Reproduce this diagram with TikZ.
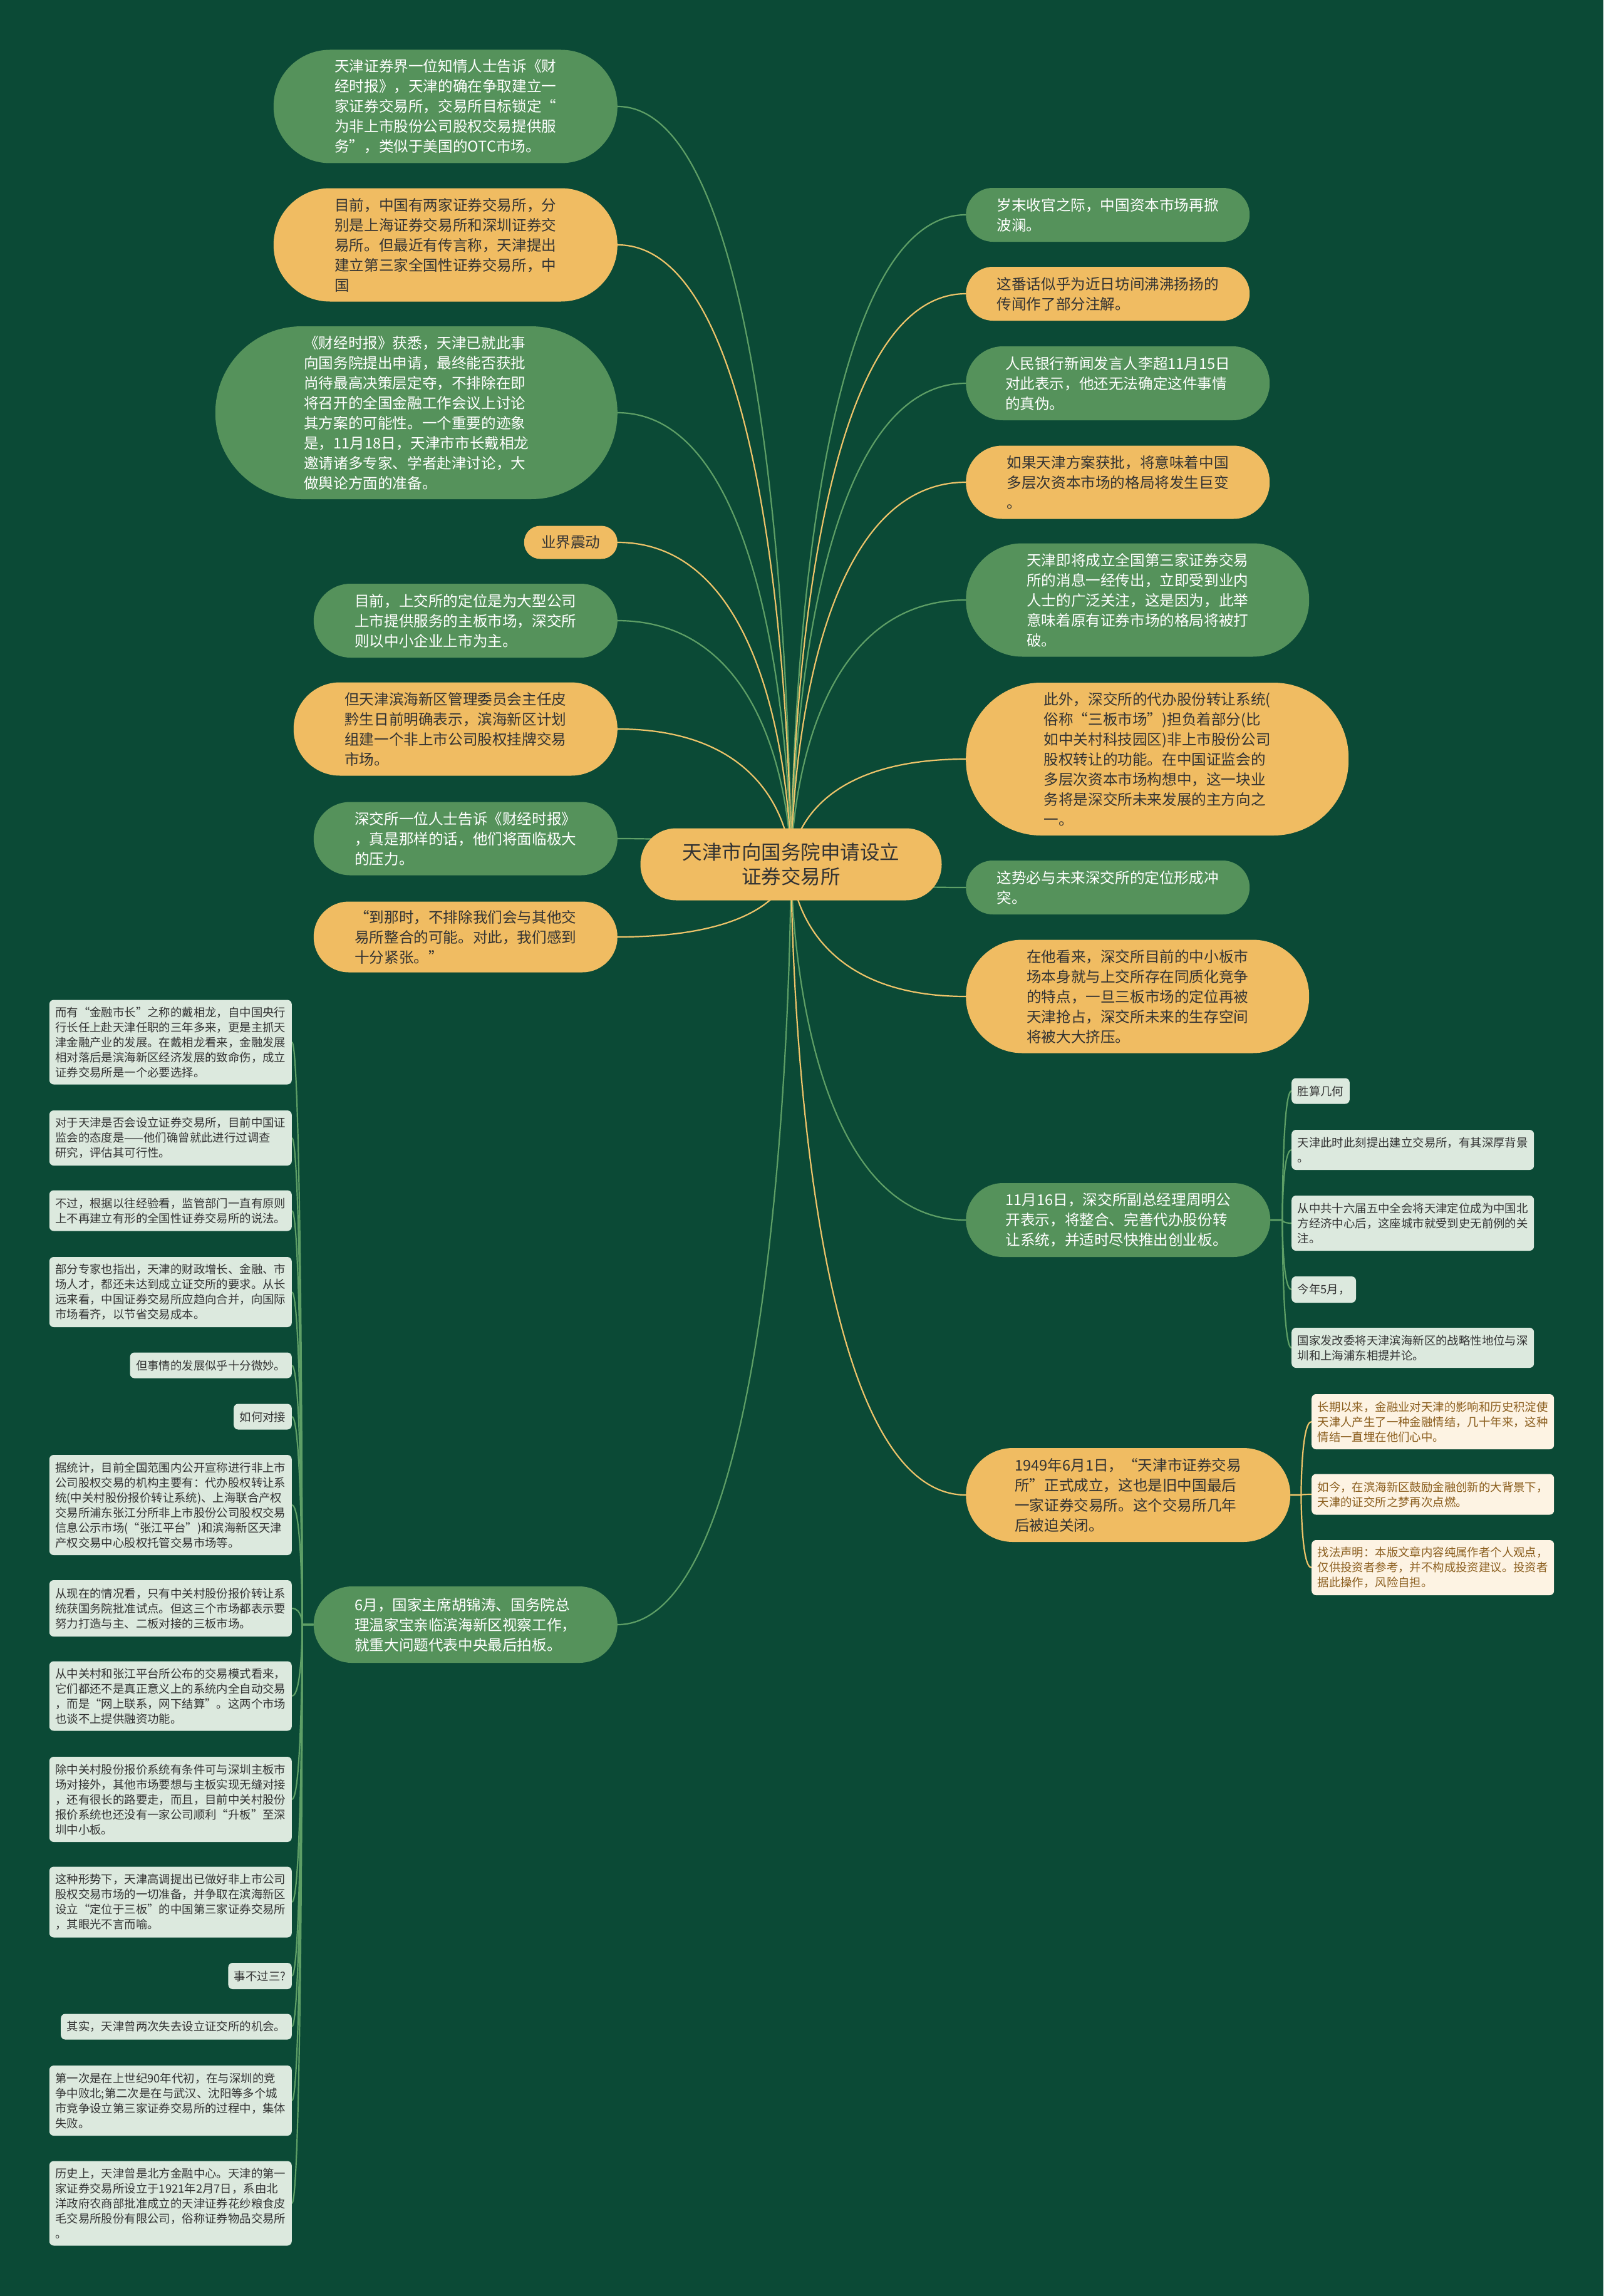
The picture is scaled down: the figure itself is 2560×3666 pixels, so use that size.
\documentclass[tikz,border=0pt]{standalone}
\usepackage{fontspec}
\setmainfont{Noto Sans CJK SC}
\definecolor{bgdark}{HTML}{0B4A36}
\definecolor{nodegreen}{HTML}{55925B}
\definecolor{nodeyellow}{HTML}{F0BC62}
\definecolor{leafgrey}{HTML}{DCE9DE}
\definecolor{leafcream}{HTML}{FDF3E3}
\definecolor{textdark}{HTML}{333333}
\definecolor{textbrown}{HTML}{8B5E1E}
\definecolor{linegreen}{HTML}{5E9F66}
\definecolor{lineyellow}{HTML}{EEC46A}
\pgfdeclarelayer{bg}
\pgfdeclarelayer{lines}
\pgfsetlayers{bg,lines,main}
\begin{document}
\begin{tikzpicture}[
	x=1pt, y=-1pt,
	gbox/.style={fill=nodegreen, text=white, rounded corners=#1, inner sep=0pt, align=left, font=\fontsize{23.6}{32}\selectfont},
	ybox/.style={fill=nodeyellow, text=textdark, rounded corners=#1, inner sep=0pt, align=left, font=\fontsize{23.6}{32}\selectfont},
	topic/.style={fill=nodeyellow, text=textdark, rounded corners=57pt, inner sep=0pt, align=center, minimum width=481pt, minimum height=115pt, font=\fontsize{31.5}{39}\selectfont},
	leaf/.style={fill=leafgrey, text=textdark, rounded corners=7pt, inner xsep=9.5pt, inner ysep=0pt, align=left, font=\fontsize{18.4}{24}\selectfont},
	cleaf/.style={leaf, fill=leafcream, text=textbrown},
	branch/.style={to path={.. controls (\tikztostart) and (\tikztostart |- \tikztotarget) .. (\tikztotarget)}},
	gedge/.style={draw=linegreen, line width=2.2pt, branch},
	yedge/.style={draw=lineyellow, line width=2.2pt, branch}
]

\begin{pgfonlayer}{bg}
\fill[bgdark] (0,0) rectangle (2560,3666);
\end{pgfonlayer}
\useasboundingbox (0,0) rectangle (2560,3666);

% Central topic
\node[topic] (root) at (1263,1380) {天津市向国务院申请设立\\证券交易所};

% Left side nodes
\node[gbox=90pt, anchor=east, minimum width=549pt, minimum height=181pt] (L1) at (986,170) {天津证券界一位知情人士告诉《财\\经时报》，天津的确在争取建立一\\家证券交易所，交易所目标锁定“\\为非上市股份公司股权交易提供服\\务”，类似于美国的OTC市场。};
\node[ybox=90pt, anchor=east, minimum width=549pt, minimum height=181pt] (L2) at (986,391) {目前，中国有两家证券交易所，分\\别是上海证券交易所和深圳证券交\\易所。但最近有传言称，天津提出\\建立第三家全国性证券交易所，中\\国};
\node[gbox=138pt, anchor=east, minimum width=642pt, minimum height=276pt] (L3) at (986,659) {《财经时报》获悉，天津已就此事\\向国务院提出申请，最终能否获批\\尚待最高决策层定夺，不排除在即\\将召开的全国金融工作会议上讨论\\其方案的可能性。一个重要的迹象\\是，11月18日，天津市市长戴相龙\\邀请诸多专家、学者赴津讨论，大\\做舆论方面的准备。};
\node[ybox=26pt, anchor=east, minimum width=149pt, minimum height=53pt] (L4) at (986,866) {业界震动};
\node[gbox=59pt, anchor=east, minimum width=485pt, minimum height=118pt] (L5) at (986,991) {目前，上交所的定位是为大型公司\\上市提供服务的主板市场，深交所\\则以中小企业上市为主。};
\node[ybox=74pt, anchor=east, minimum width=517pt, minimum height=149pt] (L6) at (986,1164) {但天津滨海新区管理委员会主任皮\\黔生日前明确表示，滨海新区计划\\组建一个非上市公司股权挂牌交易\\市场。};
\node[gbox=58pt, anchor=east, minimum width=485pt, minimum height=117pt] (L7) at (986,1339) {深交所一位人士告诉《财经时报》\\，真是那样的话，他们将面临极大\\的压力。};
\node[ybox=56pt, anchor=east, minimum width=485pt, minimum height=113pt] (L8) at (986,1496) {“到那时，不排除我们会与其他交\\易所整合的可能。对此，我们感到\\十分紧张。”};
\node[gbox=61pt, anchor=east, minimum width=485pt, minimum height=122pt] (L9) at (986,2594) {6月，国家主席胡锦涛、国务院总\\理温家宝亲临滨海新区视察工作，\\就重大问题代表中央最后拍板。};

% Right side nodes
\node[gbox=43pt, anchor=west, minimum width=453pt, minimum height=86pt] (R1) at (1542,343) {岁末收官之际，中国资本市场再掀\\波澜。};
\node[ybox=43pt, anchor=west, minimum width=453pt, minimum height=86pt] (R2) at (1542,469) {这番话似乎为近日坊间沸沸扬扬的\\传闻作了部分注解。};
\node[gbox=59pt, anchor=west, minimum width=485pt, minimum height=118pt] (R3) at (1542,612) {人民银行新闻发言人李超11月15日\\对此表示，他还无法确定这件事情\\的真伪。};
\node[ybox=58pt, anchor=west, minimum width=485pt, minimum height=117pt] (R4) at (1542,770) {如果天津方案获批，将意味着中国\\多层次资本市场的格局将发生巨变\\。};
\node[gbox=90pt, anchor=west, minimum width=548pt, minimum height=181pt] (R5) at (1542,958) {天津即将成立全国第三家证券交易\\所的消息一经传出，立即受到业内\\人士的广泛关注，这是因为，此举\\意味着原有证券市场的格局将被打\\破。};
\node[ybox=120pt, anchor=west, minimum width=611pt, minimum height=244pt] (R6) at (1542,1212) {此外，深交所的代办股份转让系统(\\俗称“三板市场”)担负着部分(比\\如中关村科技园区)非上市股份公司\\股权转让的功能。在中国证监会的\\多层次资本市场构想中，这一块业\\务将是深交所未来发展的主方向之\\一。};
\node[gbox=43pt, anchor=west, minimum width=453pt, minimum height=86pt] (R7) at (1542,1417) {这势必与未来深交所的定位形成冲\\突。};
\node[ybox=90pt, anchor=west, minimum width=548pt, minimum height=181pt] (R8) at (1542,1591) {在他看来，深交所目前的中小板市\\场本身就与上交所存在同质化竞争\\的特点，一旦三板市场的定位再被\\天津抢占，深交所未来的生存空间\\将被大大挤压。};
\node[gbox=59pt, anchor=west, minimum width=486pt, minimum height=118pt] (R9) at (1542,1948) {11月16日，深交所副总经理周明公\\开表示，将整合、完善代办股份转\\让系统，并适时尽快推出创业板。};
\node[ybox=75pt, anchor=west, minimum width=518pt, minimum height=150pt] (R10) at (1542,2387) {1949年6月1日，“天津市证券交易\\所”正式成立，这也是旧中国最后\\一家证券交易所。这个交易所几年\\后被迫关闭。};

% Leaves of R9
\node[leaf, anchor=west, minimum height=41pt] (s1) at (2062,1742) {胜算几何};
\node[leaf, anchor=west, minimum height=64pt] (s2) at (2062,1836) {天津此时此刻提出建立交易所，有其深厚背景\\。};
\node[leaf, anchor=west, minimum height=88pt] (s3) at (2062,1953) {从中共十六届五中全会将天津定位成为中国北\\方经济中心后，这座城市就受到史无前例的关\\注。};
\node[leaf, anchor=west, minimum height=42pt] (s4) at (2062,2059) {今年5月，};
\node[leaf, anchor=west, minimum height=64pt] (s5) at (2062,2152) {国家发改委将天津滨海新区的战略性地位与深\\圳和上海浦东相提并论。};

% Leaves of R10
\node[cleaf, anchor=west, minimum height=88pt] (t1) at (2094,2270) {长期以来，金融业对天津的影响和历史积淀使\\天津人产生了一种金融情结，几十年来，这种\\情结一直埋在他们心中。};
\node[cleaf, anchor=west, minimum height=65pt] (t2) at (2094,2386) {如今，在滨海新区鼓励金融创新的大背景下，\\天津的证交所之梦再次点燃。};
\node[cleaf, anchor=west, minimum height=88pt] (t3) at (2094,2503) {找法声明：本版文章内容纯属作者个人观点，\\仅供投资者参考，并不构成投资建议。投资者\\据此操作，风险自担。};

% Leaves of L9
\node[leaf, anchor=east, minimum height=135pt] (a) at (466,1664) {而有“金融市长”之称的戴相龙，自中国央行\\行长任上赴天津任职的三年多来，更是主抓天\\津金融产业的发展。在戴相龙看来，金融发展\\相对落后是滨海新区经济发展的致命伤，成立\\证券交易所是一个必要选择。};
\node[leaf, anchor=east, minimum height=88pt] (b) at (466,1817) {对于天津是否会设立证券交易所，目前中国证\\监会的态度是——他们确曾就此进行过调查\\研究，评估其可行性。};
\node[leaf, anchor=east, minimum height=65pt] (c) at (466,1933) {不过，根据以往经验看，监管部门一直有原则\\上不再建立有形的全国性证券交易所的说法。};
\node[leaf, anchor=east, minimum height=112pt] (d) at (466,2063) {部分专家也指出，天津的财政增长、金融、市\\场人才，都还未达到成立证交所的要求。从长\\远来看，中国证券交易所应趋向合并，向国际\\市场看齐，以节省交易成本。};
\node[leaf, anchor=east, minimum height=41pt] (e) at (466,2180) {但事情的发展似乎十分微妙。};
\node[leaf, anchor=east, minimum height=41pt] (f) at (466,2262) {如何对接};
\node[leaf, anchor=east, minimum height=160pt] (g) at (466,2403) {据统计，目前全国范围内公开宣称进行非上市\\公司股权交易的机构主要有：代办股权转让系\\统(中关村股份报价转让系统)、上海联合产权\\交易所浦东张江分所非上市股份公司股权交易\\信息公示市场(“张江平台”)和滨海新区天津\\产权交易中心股权托管交易市场等。};
\node[leaf, anchor=east, minimum height=90pt] (h) at (466,2568) {从现在的情况看，只有中关村股份报价转让系\\统获国务院批准试点。但这三个市场都表示要\\努力打造与主、二板对接的三板市场。};
\node[leaf, anchor=east, minimum height=111pt] (i) at (466,2708) {从中关村和张江平台所公布的交易模式看来，\\它们都还不是真正意义上的系统内全自动交易\\，而是“网上联系，网下结算”。这两个市场\\也谈不上提供融资功能。};
\node[leaf, anchor=east, minimum height=136pt] (j) at (466,2873) {除中关村股份报价系统有条件可与深圳主板市\\场对接外，其他市场要想与主板实现无缝对接\\，还有很长的路要走，而且，目前中关村股份\\报价系统也还没有一家公司顺利“升板”至深\\圳中小板。};
\node[leaf, anchor=east, minimum height=113pt] (k) at (466,3037) {这种形势下，天津高调提出已做好非上市公司\\股权交易市场的一切准备，并争取在滨海新区\\设立“定位于三板”的中国第三家证券交易所\\，其眼光不言而喻。};
\node[leaf, anchor=east, minimum height=42pt] (l) at (466,3155) {事不过三?};
\node[leaf, anchor=east, minimum height=41pt] (m) at (466,3236) {其实，天津曾两次失去设立证交所的机会。};
\node[leaf, anchor=east, minimum height=112pt] (n) at (466,3354) {第一次是在上世纪90年代初，在与深圳的竞\\争中败北;第二次是在与武汉、沈阳等多个城\\市竞争设立第三家证券交易所的过程中，集体\\失败。};
\node[leaf, anchor=east, minimum height=135pt] (o) at (466,3518) {历史上，天津曾是北方金融中心。天津的第一\\家证券交易所设立于1921年2月7日，系由北\\洋政府农商部批准成立的天津证券花纱粮食皮\\毛交易所股份有限公司，俗称证券物品交易所\\。};

\coordinate (sp9) at ([xshift=-18pt]L9.west);
\coordinate (sp16) at ([xshift=19pt]R9.east);
\coordinate (sp49) at ([xshift=17pt]R10.east);

% Edges
\begin{pgfonlayer}{lines}
\draw[gedge] (root.center) to (L1.east);
\draw[yedge] (root.center) to (L2.east);
\draw[gedge] (root.center) to (L3.east);
\draw[yedge] (root.center) to (L4.east);
\draw[gedge] (root.center) to (L5.east);
\draw[yedge] (root.center) to (L6.east);
\draw[gedge] (root.center) to (L7.east);
\draw[yedge] (root.center) to (L8.east);
\draw[gedge] (root.center) to (L9.east);
\draw[gedge] (root.center) to (R1.west);
\draw[yedge] (root.center) to (R2.west);
\draw[gedge] (root.center) to (R3.west);
\draw[yedge] (root.center) to (R4.west);
\draw[gedge] (root.center) to (R5.west);
\draw[yedge] (root.center) to (R6.west);
\draw[gedge] (root.center) to (R7.west);
\draw[yedge] (root.center) to (R8.west);
\draw[gedge] (root.center) to (R9.west);
\draw[yedge] (root.center) to (R10.west);

\draw[gedge] (R9.east) -- (sp16) to (s1.west);
\draw[gedge] (R9.east) -- (sp16) to (s2.west);
\draw[gedge] (R9.east) -- (sp16) to (s3.west);
\draw[gedge] (R9.east) -- (sp16) to (s4.west);
\draw[gedge] (R9.east) -- (sp16) to (s5.west);

\draw[yedge] (R10.east) -- (sp49) to (t1.west);
\draw[yedge] (R10.east) -- (sp49) to (t2.west);
\draw[yedge] (R10.east) -- (sp49) to (t3.west);

\draw[gedge] (L9.west) -- (sp9) to (a.east);
\draw[gedge] (L9.west) -- (sp9) to (b.east);
\draw[gedge] (L9.west) -- (sp9) to (c.east);
\draw[gedge] (L9.west) -- (sp9) to (d.east);
\draw[gedge] (L9.west) -- (sp9) to (e.east);
\draw[gedge] (L9.west) -- (sp9) to (f.east);
\draw[gedge] (L9.west) -- (sp9) to (g.east);
\draw[gedge] (L9.west) -- (sp9) to (h.east);
\draw[gedge] (L9.west) -- (sp9) to (i.east);
\draw[gedge] (L9.west) -- (sp9) to (j.east);
\draw[gedge] (L9.west) -- (sp9) to (k.east);
\draw[gedge] (L9.west) -- (sp9) to (l.east);
\draw[gedge] (L9.west) -- (sp9) to (m.east);
\draw[gedge] (L9.west) -- (sp9) to (n.east);
\draw[gedge] (L9.west) -- (sp9) to (o.east);
\end{pgfonlayer}

\end{tikzpicture}
\end{document}
